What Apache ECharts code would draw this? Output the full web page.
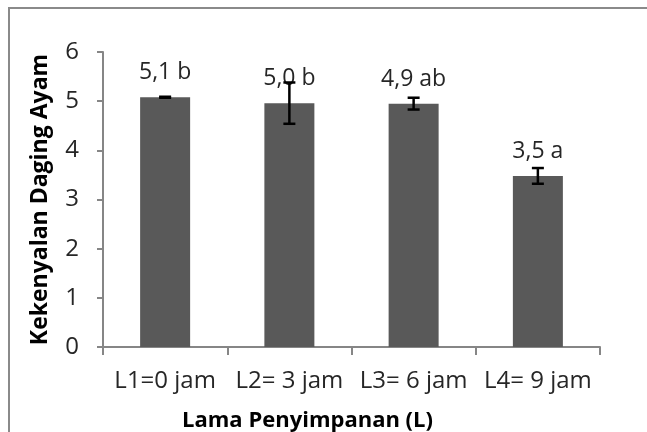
<!DOCTYPE html>
<html>
<head>
<meta charset="utf-8">
<script src="https://cdn.jsdelivr.net/npm/echarts@6/dist/echarts.min.js"></script>
<style>
html,body{margin:0;padding:0;background:#fff;}
#c{width:647px;height:432px;}
</style>
</head>
<body>
<div id="c"></div>
<script>
const categories = ['L1=0 jam', 'L2= 3 jam', 'L3= 6 jam', 'L4= 9 jam'];
const means = [5.08, 4.96, 4.95, 3.48];
const errors = [0.01, 0.42, 0.12, 0.16];
const barLabels = ['5,1 b', '5,0 b', '4,9 ab', '3,5 a'];
const yMin = 0, yMax = 6, yStep = 1;
const xTitle = 'Lama Penyimpanan (L)';
const yTitle = 'Kekenyalan Daging Ayam';

const FONT = 'Open Sans';
const chart = echarts.init(document.getElementById('c'), null, {renderer: 'canvas'});
const errData = means.map((m, i) => [i, m - errors[i], m + errors[i]]);

chart.setOption({
  animation: false,
  backgroundColor: '#ffffff',
  textStyle: {fontFamily: FONT},
  graphic: [{
    type: 'rect',
    shape: {x: 9, y: 8, width: 800, height: 600},
    style: {fill: 'none', stroke: '#8a8a8a', lineWidth: 2},
    silent: true
  }],
  grid: {left: 103, right: 47, top: 52, bottom: 85, containLabel: false, outerBoundsMode: 'none'},
  xAxis: {
    type: 'category',
    data: categories,
    boundaryGap: true,
    axisLine: {lineStyle: {color: '#868686', width: 2}},
    axisTick: {show: true, length: 8, alignWithLabel: false, lineStyle: {color: '#868686', width: 2}},
    axisLabel: {color: '#262626', fontSize: 24, fontFamily: FONT, margin: 22, interval: 0},
    name: xTitle,
    nameLocation: 'middle',
    nameGap: 63,
    nameTextStyle: {color: '#000', fontSize: 22, fontWeight: 'bold', fontFamily: FONT, padding: [0, 88, 0, 0]}
  },
  yAxis: {
    type: 'value',
    min: yMin, max: yMax, interval: yStep,
    splitLine: {show: false},
    axisLine: {show: true, lineStyle: {color: '#868686', width: 2}},
    axisTick: {show: true, length: 6, lineStyle: {color: '#868686', width: 2}},
    axisLabel: {color: '#262626', fontSize: 24, fontFamily: FONT, margin: 24},
    name: yTitle,
    nameLocation: 'middle',
    nameRotate: 90,
    nameGap: 51,
    nameTextStyle: {color: '#000', fontSize: 23, fontWeight: 'bold', fontFamily: FONT}
  },
  series: [{
    type: 'bar',
    data: means,
    barWidth: 50,
    itemStyle: {color: '#595959'},
    label: {
      show: true,
      position: 'top',
      distance: 13,
      color: '#262626',
      fontSize: 23,
      fontFamily: FONT,
      formatter: p => barLabels[p.dataIndex]
    },
    z: 2
  }, {
    type: 'custom',
    data: errData,
    z: 5,
    renderItem: function (params, api) {
      const x = api.coord([api.value(0), api.value(1)])[0];
      const lo = api.coord([api.value(0), api.value(1)])[1];
      const hi = api.coord([api.value(0), api.value(2)])[1];
      const cap = 6;
      const st = {stroke: '#000', lineWidth: 2.5, fill: 'none'};
      return {
        type: 'group',
        children: [
          {type: 'line', shape: {x1: x, y1: lo, x2: x, y2: hi}, style: st},
          {type: 'line', shape: {x1: x - cap, y1: lo, x2: x + cap, y2: lo}, style: st},
          {type: 'line', shape: {x1: x - cap, y1: hi, x2: x + cap, y2: hi}, style: st}
        ]
      };
    }
  }]
});
</script>
</body>
</html>
